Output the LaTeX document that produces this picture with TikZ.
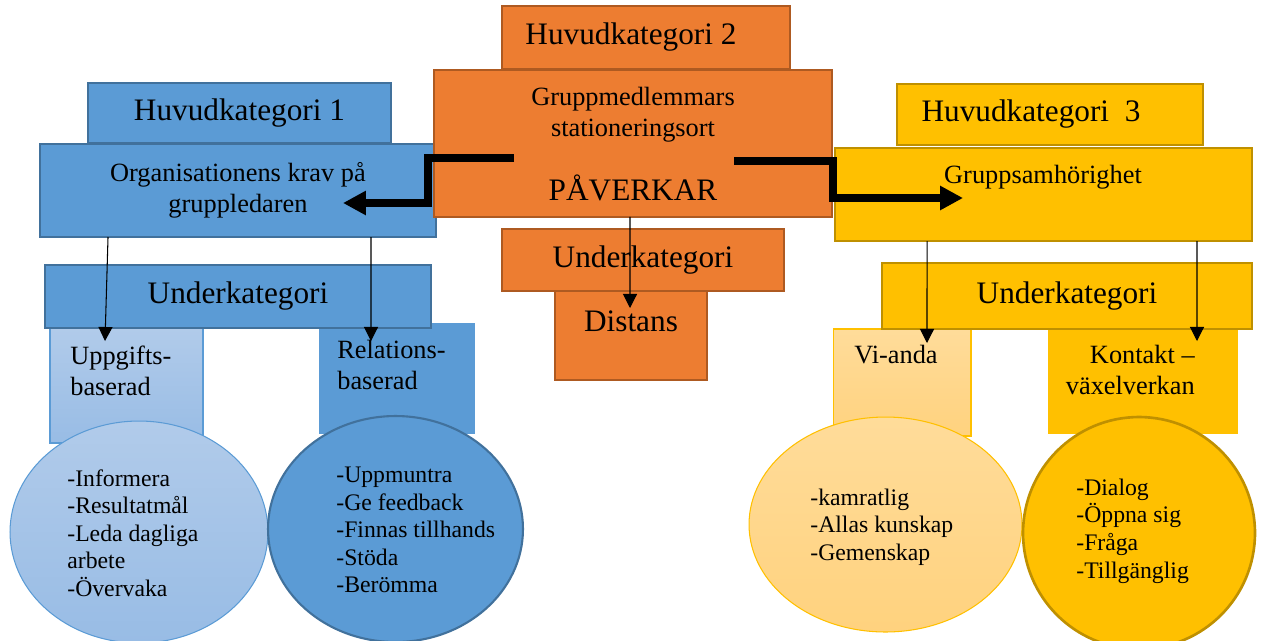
\documentclass[tikz,border=0pt]{standalone}
\usepackage{fontspec}
\setmainfont{Liberation Serif}
\usepackage{tikz}
\usetikzlibrary{arrows.meta,shapes.geometric}
\definecolor{blueF}{HTML}{5B9BD5}
\definecolor{blueD}{HTML}{41719C}
\definecolor{blueL}{HTML}{B1CBEA}
\definecolor{blueM}{HTML}{98BCE5}
\definecolor{orangeF}{HTML}{ED7D31}
\definecolor{orangeD}{HTML}{AE5A21}
\definecolor{yellowF}{HTML}{FFC000}
\definecolor{yellowD}{HTML}{BF9000}
\definecolor{yellowL}{HTML}{FFDC9A}
\definecolor{yellowM}{HTML}{FFD27E}
\begin{document}
\begin{tikzpicture}[x=0.02cm,y=-0.02cm,>={Triangle[length=8pt,width=8pt]},
    box/.style={rectangle,inner sep=0pt,outer sep=0pt,line width=1.1pt},
    blue node/.style={box,fill=blueF,draw=blueD},
    orange node/.style={box,fill=orangeF,draw=orangeD},
    yellow node/.style={box,fill=yellowF,draw=yellowD},
    big text/.style={font=\fontsize{17.8}{21}\selectfont,inner sep=0pt},
    mid text/.style={font=\fontsize{15}{17.6}\selectfont,align=center,inner sep=0pt},
    list text/.style={font=\fontsize{13.5}{15.7}\selectfont,align=left,inner sep=0pt,anchor=west},
    oval/.style={ellipse,inner sep=0pt,outer sep=0pt},
    thin arrow/.style={->,line width=0.6pt},
    thick arrow/.style={-{Triangle[length=13pt,width=13pt]},line width=4.6pt,line join=miter}]
    \useasboundingbox (0,0) rectangle (1273,640);

    % Huvudkategori 1
    \node[blue node,big text,minimum width=6.06cm,minimum height=1.2cm] (huvud1) at (239.5,113) {Huvudkategori 1};
    \node[blue node,mid text,minimum width=7.92cm,minimum height=1.86cm] (org) at (238,190.5) {Organisationens krav på\\gruppledaren};
    \node[box,draw=blueF,line width=0.6pt,top color=blueL,bottom color=blueM,minimum width=3.06cm,minimum height=2.3cm] (upg) at (126.5,385.5) {};
    \node[box,fill=blueF,minimum width=3.12cm,minimum height=2.22cm] (rel) at (397,378.5) {};
    \node[blue node,big text,minimum width=7.72cm,minimum height=1.26cm] (under1) at (238,296.5) {Underkategori};
    \node[mid text,align=left,anchor=west] (upg_t) at (70,371) {Uppgifts-\\baserad};
    \node[mid text,align=left,anchor=west] (rel_t) at (337,365) {Relations-\\baserad};
    \node[oval,draw=blueF,line width=0.6pt,top color=blueL,bottom color=blueM,minimum width=5.16cm,minimum height=4.44cm] (upg_oval) at (139,532) {};
    \node[oval,fill=blueF,draw=blueD,line width=1.2pt,minimum width=5.1cm,minimum height=4.52cm] (rel_oval) at (395.5,529) {};
    \node[list text] (upg_list) at (67,533) {-Informera\\-Resultatmål\\-Leda dagliga\\arbete\\-Övervaka};
    \node[list text] (rel_list) at (336,530) {-Uppmuntra\\-Ge feedback\\-Finnas tillhands\\-Stöda\\-Berömma};

    % Huvudkategori 2
    \node[orange node,minimum width=5.76cm,minimum height=1.26cm] (huvud2) at (646,37.5) {};
    \node[big text] (huvud2_t) at ([xshift=-0.3cm]huvud2.center) {Huvudkategori 2};
    \node[orange node,minimum width=7.96cm,minimum height=2.94cm] (stat) at (633,143.5) {};
    \node[mid text] (stat_t) at (633,114.5) {Gruppmedlemmars\\stationeringsort};
    \node[big text] (pav) at (633,188) {PÅVERKAR};
    \node[orange node,minimum width=3.04cm,minimum height=1.78cm] (dist) at (631,335.5) {};
    \node[orange node,big text,minimum width=5.64cm,minimum height=1.24cm] (under2) at (643,260) {Underkategori};
    \node[big text] (dist_t) at (631,321) {Distans};

    % Huvudkategori 3
    \node[yellow node,minimum width=6.12cm,minimum height=1.22cm] (huvud3) at (1050,114.5) {};
    \node[big text] (huvud3_t) at (1031,114) {Huvudkategori~~3};
    \node[yellow node,minimum width=8.34cm,minimum height=1.86cm] (grupp) at (1043.5,194.5) {};
    \node[mid text] (grupp_t) at (1043,177) {Gruppsamhörighet};
    \node[box,draw=yellowF,line width=0.6pt,top color=yellowL,bottom color=yellowM,minimum width=2.76cm,minimum height=2.14cm] (vi) at (902,382.5) {};
    \node[box,fill=yellowF,minimum width=3.8cm,minimum height=2.1cm] (kon) at (1143,381.5) {};
    \node[yellow node,big text,minimum width=7.4cm,minimum height=1.32cm] (under3) at (1067,296) {Underkategori};
    \node[mid text] (vi_t) at (896,355) {Vi-anda};
    \node[mid text,align=right,anchor=east] (kon_t) at (1195,370) {Kontakt –\\växelverkan};
    \node[oval,draw=yellowF,line width=0.6pt,top color=yellowL,bottom color=yellowM,minimum width=5.46cm,minimum height=4.3cm] (vi_oval) at (885.5,524.5) {};
    \node[oval,fill=yellowF,draw=yellowD,line width=1.5pt,minimum width=4.64cm,minimum height=4.64cm] (kon_oval) at (1139,533) {};
    \node[list text] (vi_list) at (810,527) {-kamratlig\\-Allas kunskap\\-Gemenskap};
    \node[list text] (kon_list) at (1076,531) {-Dialog\\-Öppna sig\\-Fråga\\-Tillgänglig};

    % pilar
    \draw[thin arrow] ([xshift=-2.6cm]org.south) -- ([xshift=-0.43cm,yshift=-0.26cm]upg.north);
    \draw[thin arrow] ([xshift=2.66cm]org.south) -- ([xshift=-0.52cm,yshift=-0.36cm]rel.north);
    \draw[thin arrow] ([xshift=-0.06cm]stat.south) -- ([xshift=-0.02cm,yshift=-0.34cm]dist.north);
    \draw[thin arrow] ([xshift=-2.33cm]grupp.south) -- ([xshift=0.5cm,yshift=-0.28cm]vi.north);
    \draw[thin arrow] ([xshift=3.07cm]grupp.south) -- ([xshift=1.08cm,yshift=-0.24cm]kon.north);

    \coordinate (pav_left) at (514,158);
    \coordinate (pav_right) at (734,161);
    \draw[thick arrow] (pav_left) -- ++(-86,0) |- ([xshift=2.1cm,yshift=-0.25cm]org.center);
    \draw[thick arrow] (pav_right) -- ++(99,0) |- ([xshift=-1.61cm,yshift=-0.07cm]grupp.center);
\end{tikzpicture}
\end{document}
